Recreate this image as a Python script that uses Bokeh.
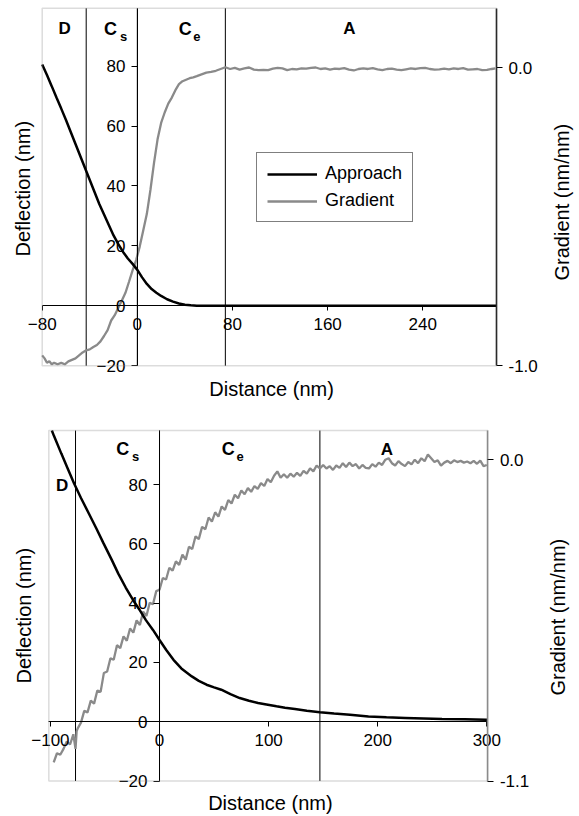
import math
from bokeh.plotting import figure
from bokeh.models import (LinearAxis, Range1d, FixedTicker, Label, BoxAnnotation,
                          Legend, LegendItem, NumeralTickFormatter)
from bokeh.layouts import column
from bokeh.embed import file_html
from bokeh.resources import INLINE

FONT = "Liberation Sans"
GRAY = "#8a8a8a"
FRAME_GRAY = "#8c8c8c"

# ---------------- top panel data ----------------
top_approach_x = [-80, -76, -72, -68, -64, -60, -56, -52, -48, -44, -40, -36, -32, -28, -24,
                  -20, -16, -12, -8, -4, 0, 4, 8, 12, 16, 20, 25, 30, 35, 40, 45, 50, 55,
                  80, 120, 160, 200, 240, 280, 302]
top_approach_y = [80.5, 77.0, 73.3, 69.5, 65.8, 62.0, 58.0, 54.0, 50.0, 46.0, 42.0, 38.0, 34.0,
                  30.5, 27.0, 23.5, 20.6, 18.0, 15.8, 14.0, 12.0, 9.5, 7.3, 5.6, 4.4, 3.3, 2.2,
                  1.4, 0.8, 0.4, 0.2, 0.05, 0.0, 0.0, 0.0, 0.0, 0.0, 0.0, 0.0, 0.0]

top_grad_x = [-80, -78, -76, -74, -72, -70, -67, -64, -61, -58, -55, -52, -49, -46, -43, -40,
              -37, -34, -31, -28, -25, -22, -19, -16, -13, -10, -7, -4, -1, 2, 5, 8, 11, 14,
              17, 20, 23, 26, 29, 32, 35, 38, 41, 44, 47, 50, 54, 58, 62, 66, 70, 74,
              78, 82, 86, 90, 94, 98, 102, 106, 110, 114, 118, 122, 126, 130, 134, 138, 142,
              146, 150, 154, 158, 162, 166, 170, 174, 178, 182, 186, 190, 194, 198, 202, 206,
              210, 214, 218, 222, 226, 230, 234, 238, 242, 246, 250, 254, 258, 262, 266, 270,
              274, 278, 282, 286, 290, 294, 298, 301]
top_grad_y = [-0.965, -0.975, -0.99, -0.985, -0.995, -0.99, -0.995, -0.99, -0.995, -0.985,
              -0.98, -0.975, -0.965, -0.955, -0.948, -0.945, -0.937, -0.930, -0.918, -0.900,
              -0.880, -0.848, -0.830, -0.805, -0.781, -0.755, -0.718, -0.68, -0.645, -0.60,
              -0.545, -0.49, -0.41, -0.32, -0.24, -0.185, -0.15, -0.12, -0.10, -0.075, -0.055,
              -0.045, -0.040, -0.035, -0.032, -0.028, -0.022, -0.016, -0.014, -0.010, -0.004,
              0.002,
              -0.004, 0.0, -0.006, -0.002, 0.001, -0.006, -0.008, -0.007, -0.008, -0.003, 0.0,
              -0.002, -0.008, -0.004, -0.005, -0.002, -0.003, 0.0, 0.001, -0.004, -0.002,
              -0.006, -0.003, -0.004, -0.001, -0.006, -0.009, -0.004, -0.002, -0.004, -0.001,
              -0.005, -0.008, -0.004, -0.003, -0.006, -0.008, -0.005, -0.002, -0.004, -0.001,
              0.0, -0.004, -0.006, -0.005, -0.003, -0.005, -0.002, -0.004, -0.001, -0.006,
              -0.005, -0.004, -0.008, -0.007, -0.004, -0.002]

top_box_x = (-80, 302)
top_box_y = (-20, 99.3)
top_box_g = (-1.0, 0.2)
top_bounds = [-43, 0, 74]
top_xticks = [-80, 0, 80, 160, 240]
top_yticks = [-20, 0, 20, 40, 60, 80]
top_gticks = [-1.0, 0.0]

# ---------------- bottom panel data ----------------
bot_approach_x = [-98.7, -96.8, -90, -84, -78.3, -72, -64.8, -58, -51.3, -44, -37.8, -31,
                  -24.3, -18, -12.5, -6, 0, 6, 12.8, 20, 29.6, 36, 43.1, 50, 56.6, 65, 73.5,
                  82, 90.3, 98, 107.2, 115, 124.1, 135, 147, 160, 174.6, 191.5, 208, 225.2,
                  242, 259, 280, 299.4, 301]
bot_approach_y = [98.3, 96.5, 90.5, 85.3, 80.4, 75.5, 70.3, 65.3, 60.2, 54.8, 50.0, 45.3,
                  41.1, 37.6, 34.3, 31.0, 27.6, 24.3, 20.9, 18.0, 15.3, 13.8, 12.5, 11.6, 10.8,
                  9.3, 8.0, 7.1, 6.3, 5.8, 5.2, 4.7, 4.3, 3.7, 3.2, 2.8, 2.4, 1.8, 1.5, 1.3,
                  1.1, 0.9, 0.8, 0.7, 0.7]

bot_grad_x = [-97, -94, -91, -88, -85, -82, -79, -77, -76, -75, -72, -69, -66, -63, -60, -57,
              -54, -51, -48, -45, -42, -39, -36, -33, -30, -27, -24, -21, -18, -15, -12, -9,
              -6, -3, 0, 3, 6, 9, 12, 15, 18, 21, 24, 27, 30, 33, 36, 39, 42, 45, 48, 51, 54,
              57, 60, 63, 66, 69, 72, 75, 78, 81, 84, 87, 90, 93, 96, 99, 102, 105, 108, 111,
              114, 117, 120, 123, 126, 129, 132, 135, 138, 141, 144, 147,
              150, 153, 156, 159, 162, 165, 168, 171, 174, 177, 180, 183, 186, 189, 192, 195,
              198, 201, 204, 207, 210, 213, 216, 219, 222, 225, 228, 231, 234, 237, 240, 243,
              246, 249, 252, 255, 258, 261, 264, 267, 270, 273, 276, 279, 282, 285, 288, 291,
              294, 297, 300]
bot_grad_y = [-1.036, -1.005, -1.01, -0.99, -0.965, -0.975, -0.94, -0.99, -0.93, -0.92,
              -0.90, -0.86, -0.865, -0.825, -0.835, -0.79, -0.795, -0.73, -0.725, -0.68,
              -0.685, -0.635, -0.645, -0.605, -0.62, -0.578, -0.592, -0.55, -0.566, -0.52,
              -0.535, -0.49, -0.495, -0.45, -0.445, -0.405, -0.41, -0.37, -0.38, -0.348,
              -0.36, -0.325, -0.342, -0.298, -0.306, -0.262, -0.272, -0.23, -0.238, -0.198,
              -0.212, -0.18, -0.195, -0.16, -0.172, -0.138, -0.15, -0.12, -0.132, -0.105,
              -0.118, -0.097, -0.11, -0.09, -0.10, -0.08, -0.09, -0.066, -0.077, -0.055,
              -0.04, -0.062, -0.05, -0.062, -0.048, -0.058, -0.045, -0.055, -0.038, -0.048,
              -0.03, -0.04, -0.02, -0.03,
              -0.018, -0.03, -0.022, -0.035, -0.02, -0.028, -0.012, -0.025, -0.01, -0.022,
              -0.015, -0.03, -0.018, -0.028, -0.03, -0.015, -0.024, -0.01, -0.018, 0.0,
              0.005, -0.012, -0.02, -0.005, -0.015, -0.022, -0.008, -0.016, 0.0, -0.012,
              0.005, -0.005, 0.018, 0.005, -0.008, -0.002, -0.02, -0.01, -0.004, -0.012,
              -0.002, -0.008, -0.004, -0.01, -0.006, -0.012, -0.004, -0.014, -0.003, -0.022,
              -0.018]

bot_box_x = (-101.5, 301)
bot_box_y = (-20, 98.3)
bot_box_g = (-1.1, 0.1)
bot_bounds = [-77, 0, 147]
bot_xticks = [-100, 0, 100, 200, 300]
bot_yticks = [-20, 0, 20, 40, 60, 80]
bot_gticks = [-1.1, 0.0]

W = 575
H_TOP = 404
H_BOT = 412


def xrange_for(box, px_lo, px_hi):
    lo, hi = box
    s = (hi - lo) / (px_hi - px_lo)
    return Range1d(lo - px_lo * s, hi + (W - px_hi) * s)


def yrange_for(box, py_lo, py_hi, h):
    # py_lo: pixel (from top) of box low value, py_hi: pixel of box high value
    lo, hi = box
    s = (hi - lo) / (py_lo - py_hi)
    return Range1d(lo - (h - py_lo) * s, hi + py_hi * s)


def style_axis(ax, tick_out=6, standoff=6, line_color="black", line_width=1):
    ax.major_label_text_font = FONT
    ax.major_label_text_font_size = "17px"
    ax.major_label_text_color = "black"
    ax.minor_tick_line_color = None
    ax.major_tick_line_color = "black"
    ax.major_tick_in = 0
    ax.major_tick_out = tick_out
    ax.major_label_standoff = standoff
    ax.axis_line_color = line_color
    ax.axis_line_width = line_width


def add_text(p, text, x, y, size, bold=False, angle=0.0):
    p.add_layout(Label(x=x, y=y, text=text, text_font=FONT, text_font_size=size,
                       text_font_style="bold" if bold else "normal", text_color="black",
                       text_align="center", text_baseline="middle", angle=angle))


def make_panel(h, box_x, box_y, box_g, px, py, ax_x, ax_y, gx, gy, bounds,
               xticks, yticks, gticks, right_line_color):
    p = figure(width=W, height=h,
               x_range=xrange_for(box_x, px[0], px[1]),
               y_range=yrange_for(box_y, py[0], py[1], h),
               output_backend="svg", toolbar_location=None,
               x_axis_location=None, y_axis_location=None,
               min_border=0, min_border_left=0, min_border_right=0,
               min_border_top=0, min_border_bottom=0)
    p.grid.visible = False
    p.background_fill_color = "white"
    p.border_fill_color = "white"
    p.outline_line_color = None
    p.extra_y_ranges = {"grad": yrange_for(box_g, py[0], py[1], h)}

    # plot box
    p.add_layout(BoxAnnotation(left=box_x[0], right=box_x[1], bottom=box_y[0], top=box_y[1],
                               fill_alpha=0, line_color=FRAME_GRAY, line_width=1.5))

    # region separators
    p.segment(x0=bounds, y0=[box_y[0]] * len(bounds), x1=bounds, y1=[box_y[1]] * len(bounds),
              line_color="black", line_width=1)

    xax = LinearAxis(fixed_location=0, ticker=FixedTicker(ticks=xticks), bounds=box_x)
    style_axis(xax, tick_out=5, standoff=7)
    p.add_layout(xax, "below")

    yax = LinearAxis(fixed_location=0, ticker=FixedTicker(ticks=yticks), bounds=box_y)
    style_axis(yax, tick_out=6, standoff=6)
    p.add_layout(yax, "left")

    rax = LinearAxis(y_range_name="grad", fixed_location=box_x[1],
                     ticker=FixedTicker(ticks=gticks), bounds=box_g,
                     formatter=NumeralTickFormatter(format="0.0"))
    style_axis(rax, tick_out=6, standoff=6, line_color=right_line_color, line_width=1.5)
    p.add_layout(rax, "right")

    rg = p.line(gx, gy, line_color=GRAY, line_width=2.3, y_range_name="grad")
    ra = p.line(ax_x, ax_y, line_color="black", line_width=2.5)
    return p, ra, rg


# ---------------- top ----------------
p1, ra1, rg1 = make_panel(H_TOP, top_box_x, top_box_y, top_box_g, (41.7, 496.0), (365.3, 7.7),
                          top_approach_x, top_approach_y, top_grad_x, top_grad_y,
                          top_bounds, top_xticks, top_yticks, top_gticks, "black")
legend = Legend(items=[LegendItem(label="Approach", renderers=[ra1]),
                       LegendItem(label="Gradient", renderers=[rg1])],
                location=(256, H_TOP - 222), border_line_color="black", border_line_width=1.2,
                padding=10, spacing=6, glyph_width=50, glyph_height=20, label_height=20,
                label_standoff=8, label_text_font=FONT, label_text_font_size="18px",
                label_text_color="black", margin=0, background_fill_alpha=1.0)
p1.add_layout(legend)

add_text(p1, "D", -61.2, 92.5, "17px", bold=True)
add_text(p1, "C", -22.5, 92.4, "18px", bold=True)
add_text(p1, "s", -11.5, 89.7, "13px", bold=True)
add_text(p1, "C", 40.3, 92.4, "18px", bold=True)
add_text(p1, "e", 50.0, 89.7, "13px", bold=True)
add_text(p1, "A", 178.4, 92.4, "17px", bold=True)
add_text(p1, "Distance (nm)", 112.9, -27.9, "20px")
add_text(p1, "Deflection (nm)", -96.2, 39.1, "20px", angle=math.pi / 2)
add_text(p1, "Gradient (nm/nm)", 357.3, 34.6, "20px", angle=math.pi / 2)

# ---------------- bottom (page y offset = H_TOP) ----------------
p2, ra2, rg2 = make_panel(H_BOT, bot_box_x, bot_box_y, bot_box_g, (48.3, 487.4),
                          (780.5 - H_TOP, 430.0 - H_TOP),
                          bot_approach_x, bot_approach_y, bot_grad_x, bot_grad_y,
                          bot_bounds, bot_xticks, bot_yticks, bot_gticks, FRAME_GRAY)

add_text(p2, "D", -89.3, 79.8, "17px", bold=True)
add_text(p2, "C", -33.8, 91.9, "18px", bold=True)
add_text(p2, "s", -22.0, 89.4, "13px", bold=True)
add_text(p2, "C", 63.0, 91.9, "18px", bold=True)
add_text(p2, "e", 73.8, 89.4, "13px", bold=True)
add_text(p2, "A", 208.3, 91.9, "17px", bold=True)
add_text(p2, "Distance (nm)", 101.6, -27.3, "20px")
add_text(p2, "Deflection (nm)", -124.3, 35.8, "20px", angle=math.pi / 2)
add_text(p2, "Gradient (nm/nm)", 364.8, 35.3, "20px", angle=math.pi / 2)

layout = column(p1, p2, spacing=0)
open("out.html", "w").write(file_html(layout, INLINE))
